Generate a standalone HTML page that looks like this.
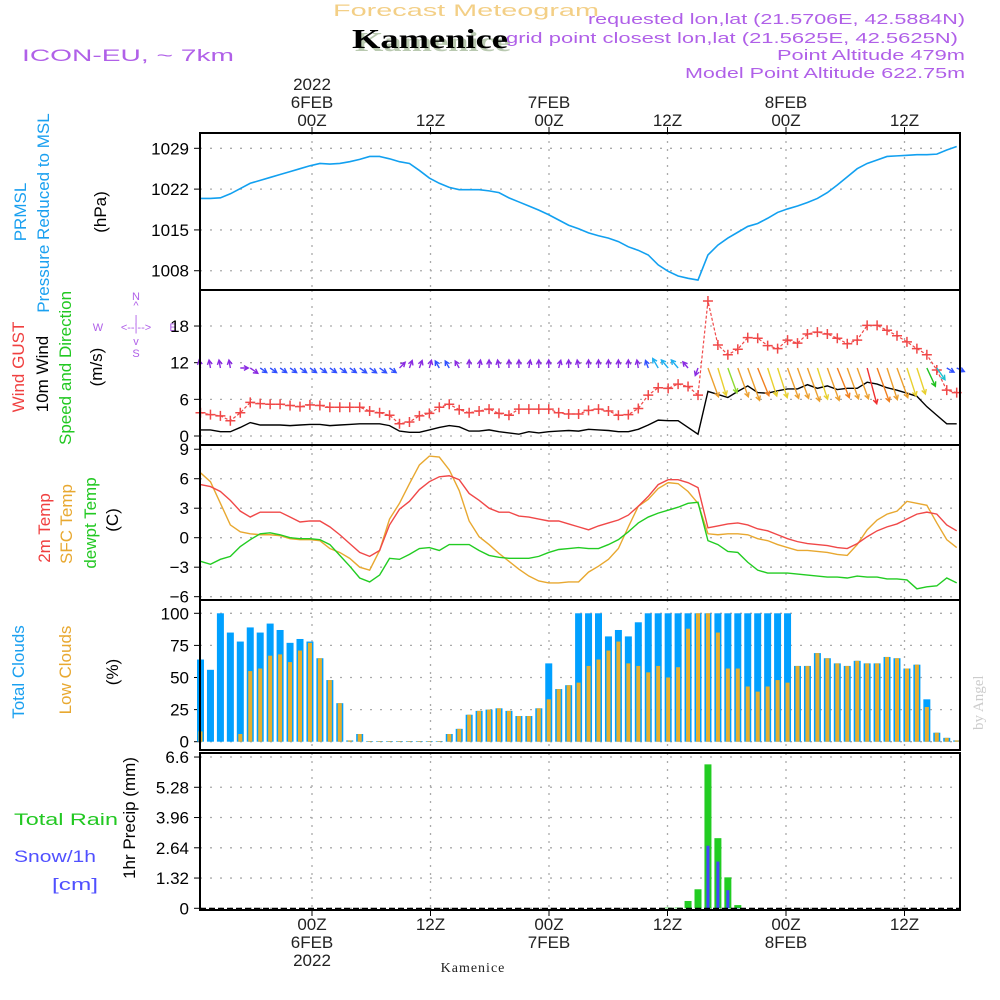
<!DOCTYPE html>
<html><head><meta charset="utf-8"><style>
html,body{margin:0;padding:0;background:#fff;}
svg{display:block;font-family:"Liberation Sans",sans-serif;}
</style></head><body>
<svg id="chart" width="1000" height="1000" viewBox="0 0 1000 1000" xmlns="http://www.w3.org/2000/svg">
<rect x="0" y="0" width="1000" height="1000" fill="#fff"/>
<text x="333" y="16" font-size="17" fill="#f3cf86" textLength="266" lengthAdjust="spacingAndGlyphs">Forecast Meteogram</text>
<text x="355" y="51" font-size="27" font-weight="bold" fill="#b9c9b0" font-family="Liberation Serif, serif" textLength="156" lengthAdjust="spacingAndGlyphs">Kamenice</text>
<text x="352" y="48" font-size="27" font-weight="bold" fill="#000" font-family="Liberation Serif, serif" textLength="156" lengthAdjust="spacingAndGlyphs">Kamenice</text>
<text x="22" y="61" font-size="17" fill="#b060e8" textLength="212" lengthAdjust="spacingAndGlyphs">ICON-EU, ~ 7km</text>
<g font-size="15" fill="#b060e8">
<text x="588" y="24" textLength="377" lengthAdjust="spacingAndGlyphs">requested lon,lat (21.5706E, 42.5884N)</text>
<text x="506" y="43" textLength="452" lengthAdjust="spacingAndGlyphs">grid point closest lon,lat (21.5625E, 42.5625N)</text>
<text x="777" y="60" textLength="188" lengthAdjust="spacingAndGlyphs">Point Altitude 479m</text>
<text x="685" y="78" textLength="280" lengthAdjust="spacingAndGlyphs">Model Point Altitude 622.75m</text>
</g>
<text transform="translate(983,730) rotate(-90)" font-size="15" fill="#ccc" font-family="Liberation Serif, serif">by Angel</text>
<text x="473" y="972" font-size="14" fill="#222" text-anchor="middle" font-family="Liberation Serif, serif" letter-spacing="1">Kamenice</text>

<g font-size="17">
<text transform="translate(26,212) rotate(-90)" fill="#1aa0f0" text-anchor="middle">PRMSL</text>
<text transform="translate(49,213) rotate(-90)" fill="#1aa0f0" text-anchor="middle">Pressure Reduced to MSL</text>
<text transform="translate(106,212) rotate(-90)" fill="#000" text-anchor="middle">(hPa)</text>
<text transform="translate(24,367) rotate(-90)" fill="#f04040" text-anchor="middle">Wind GUST</text>
<text transform="translate(48,374) rotate(-90)" fill="#000" text-anchor="middle">10m Wind</text>
<text transform="translate(71,368) rotate(-90)" fill="#22c822" text-anchor="middle">Speed and Direction</text>
<text transform="translate(102,367) rotate(-90)" fill="#000" text-anchor="middle">(m/s)</text>
<text transform="translate(50,528) rotate(-90)" fill="#f04040" text-anchor="middle">2m Temp</text>
<text transform="translate(72,524) rotate(-90)" fill="#e8a830" text-anchor="middle">SFC Temp</text>
<text transform="translate(96,523) rotate(-90)" fill="#22c822" text-anchor="middle">dewpt Temp</text>
<text transform="translate(118,520) rotate(-90)" fill="#000" text-anchor="middle">(C)</text>
<text transform="translate(24,672) rotate(-90)" fill="#1aa0f0" text-anchor="middle">Total Clouds</text>
<text transform="translate(71,670) rotate(-90)" fill="#e8a830" text-anchor="middle">Low Clouds</text>
<text transform="translate(118,672) rotate(-90)" fill="#000" text-anchor="middle">(%)</text>
<text transform="translate(135,818) rotate(-90)" fill="#000" text-anchor="middle">1hr Precip (mm)</text>
<text x="14" y="825" fill="#22c822" textLength="104" lengthAdjust="spacingAndGlyphs">Total   Rain</text>
<text x="14" y="862" fill="#5050ff" textLength="82" lengthAdjust="spacingAndGlyphs">Snow/1h</text>
<text x="52" y="890" fill="#5050ff" textLength="46" lengthAdjust="spacingAndGlyphs">[cm]</text>
</g>
<g font-size="11" fill="#b060e8" text-anchor="middle">
<text x="136" y="300">N</text><text x="136" y="309">^</text><text x="136" y="323">|</text>
<text x="98" y="331">W</text><text x="136" y="331">&lt;--|--&gt;</text><text x="173" y="331">E</text>
<text x="136" y="345">v</text><text x="136" y="357">S</text>
</g>

<g id="plots"></g>
</svg>
<script>
const pressure = [1020.4,1020.4,1020.5,1021.2,1022.1,1023,1023.5,1024,1024.5,1025,1025.5,1026,1026.4,1026.3,1026.4,1026.7,1027.1,1027.6,1027.6,1027.2,1026.7,1026.4,1025.2,1023.9,1023,1022.3,1021.9,1021.9,1021.9,1021.7,1021.4,1020.5,1019.8,1019.1,1018.4,1017.6,1016.7,1015.8,1015.2,1014.5,1014,1013.6,1013,1012.1,1011.5,1010.7,1009,1007.9,1007.1,1006.7,1006.4,1010.7,1012.4,1013.6,1014.6,1015.6,1016.1,1017,1018,1018.6,1019.1,1019.7,1020.4,1021.4,1022.7,1024.1,1025.5,1026.4,1027,1027.6,1027.7,1027.8,1027.9,1027.9,1028,1028.7,1029.3];
const windGust = [3.8,3.5,3.3,2.5,3.8,5.5,5.3,5.2,5.2,5,4.8,5.1,5,4.7,4.7,4.7,4.7,4.1,3.8,3.4,2,2.3,3.3,3.7,4.7,5.2,4.3,3.8,4.1,4.4,3.7,3.4,4.4,4.4,4.4,4.4,3.8,3.6,3.6,4.2,4.4,4.1,3.4,3.5,4.5,6.7,7.9,7.8,8.5,8.1,6.7,22.1,14.9,13.3,14.2,16.1,16,14.8,14.3,15.7,15.2,16.7,17,16.7,16,15.1,15.7,18.1,18.1,17.3,16.4,15.4,14.3,13.3,10.8,7.5,7.1];
const windSpeed = [1,1,0.7,0.7,1.4,2.2,1.8,1.8,1.8,1.7,1.8,1.9,1.9,1.7,1.8,1.9,2,2,2,1.7,0.8,0.6,0.6,1,1.4,1.7,1.5,0.8,0.8,1,0.7,0.5,0.3,0.7,0.5,0.7,0.8,0.9,0.8,1.1,1,0.9,0.7,0.7,1.1,1.8,2.6,2.5,2.5,1.4,0.3,7.3,6.8,6.3,7.3,8.2,7.1,7,7.4,7.7,7.7,8.4,7.8,8.2,7.6,7.8,7.8,8.8,8.5,7.9,7.5,7,6.5,4.8,3.4,2,2];
const windDir = [350,350,350,350,90,125,125,125,125,125,125,125,125,125,125,125,125,125,125,125,45,20,20,15,330,330,330,0,10,0,350,0,0,10,0,0,15,0,350,0,0,0,0,0,350,340,330,320,320,320,200,160,163,160,160,160,158,162,162,160,160,160,162,160,158,160,160,165,160,162,160,162,162,155,145,120,115];
const windColor = ["#8a2be2","#8a2be2","#8a2be2","#8a2be2","#8a2be2","#8a2be2","#3050ff","#3050ff","#3050ff","#3050ff","#3050ff","#3050ff","#3050ff","#3050ff","#3050ff","#3050ff","#3050ff","#3050ff","#3050ff","#3050ff","#8a2be2","#8a2be2","#8a2be2","#8a2be2","#3050ff","#3050ff","#8a2be2","#8a2be2","#8a2be2","#8a2be2","#8a2be2","#8a2be2","#8a2be2","#8a2be2","#8a2be2","#8a2be2","#8a2be2","#8a2be2","#8a2be2","#8a2be2","#8a2be2","#8a2be2","#8a2be2","#8a2be2","#8a2be2","#3050ff","#20b0f0","#20b0f0","#20b0f0","#8a2be2","#8a2be2","#eca030","#e8d030","#90d830","#eca030","#eca030","#f08020","#e8d030","#e8d030","#eca030","#eca030","#eca030","#e8d030","#eca030","#f08020","#eca030","#eca030","#f03030","#f08020","#eca030","#eca030","#e8d030","#e8d030","#20c020","#20c0d0","#3050ff","#3050ff"];
const temp2m = [5.4,5.2,4.7,3.8,2.7,2.1,2.6,2.6,2.6,2.1,1.6,1.7,1.7,1.1,0.3,-0.6,-1.5,-1.9,-1.3,1.3,2.9,3.7,4.9,5.7,6.2,6.3,5.9,4.5,3.8,3,2.6,2.6,2.2,2.1,1.9,1.7,1.7,1.4,1.1,0.8,1.2,1.5,1.8,2.3,3.2,4.2,5.4,5.9,5.9,5.6,5.1,1,1.2,1.4,1.5,1.3,0.9,0.7,0.3,-0.1,-0.4,-0.6,-0.7,-0.8,-1,-1.1,-0.6,0.1,0.7,1.1,1.4,1.9,2.4,2.6,2.4,1.3,0.7];
const tempSfc = [6.6,5.7,3.5,1.3,0.6,0.4,0.3,0.3,0.2,-0.1,-0.2,-0.2,-0.3,-1.1,-1.5,-2.1,-3,-3.3,-1.3,1.9,3.5,5.5,7.4,8.3,8.2,6.9,4.8,1.7,0.1,-0.7,-1.6,-2.4,-3.2,-3.9,-4.4,-4.6,-4.6,-4.5,-4.5,-3.5,-2.9,-2.2,-1.1,1.1,3.2,3.9,5,5.6,5.5,4.7,3.5,0.4,0.3,0.4,0.4,0.3,-0.1,-0.3,-0.7,-1,-1.3,-1.3,-1.4,-1.5,-1.7,-1.8,-0.7,0.8,1.8,2.4,2.7,3.7,3.5,3.3,1.5,-0.2,-1];
const tempDew = [-2.4,-2.7,-2.2,-1.9,-0.9,-0.2,0.4,0.5,0.3,0,-0.1,-0.1,-0.2,-0.7,-1.8,-2.9,-4.1,-4.5,-3.8,-2.1,-2.2,-1.7,-1.1,-1,-1.3,-0.7,-0.7,-0.7,-1.3,-1.8,-2,-2.1,-2.1,-2.1,-1.9,-1.5,-1.2,-1.1,-1,-1.1,-1.1,-0.7,-0.2,0.6,1.5,2.1,2.5,2.8,3.1,3.5,3.6,-0.3,-0.7,-1.4,-1.5,-2.5,-3.3,-3.6,-3.6,-3.6,-3.7,-3.8,-3.9,-4,-4,-4.1,-3.9,-4,-4,-4.2,-4.2,-4.3,-5.2,-5,-4.9,-4.1,-4.6];
const totalClouds = [64,56,100,85,78,89,85,92,87,77,80,78,65,48,30,1,6,0.5,0.5,0.5,0.5,0.5,0.5,0.5,0.5,6,10,21,24,25,26,24,20,20,26,61,41,44,100,100,100,82,87,82,93,100,100,100,100,100,100,100,100,100,100,100,100,100,100,100,59,59,69,65,61,59,63,61,61,66,65,57,60,33,7,3,1];
const lowClouds = [8,0,0,0,6,55,57,67,68,62,71,77,65,48,30,1,6,0.5,0.5,0.5,0.5,0.5,0.5,0.5,0.5,6,10,21,24,25,26,24,20,20,26,33,41,44,46,59,64,71,78,61,59,54,59,50,58,88,100,100,85,57,57,43,39,43,48,46,59,59,69,65,61,59,63,61,61,66,65,57,60,27,7,3,1];
const precipIdx = [47,48,49,50,51,52,53,54];
const rainTotal = [0.03,0.03,0.32,0.83,6.28,3.06,1.35,0.14];
const snowTotal = [0,0,0,0,2.73,2.04,0.79,0.02];
const tickHours = [0,12,24,36,48,60];
const tickTopLabels = [["2022","6FEB","00Z"],["12Z"],["7FEB","00Z"],["12Z"],["8FEB","00Z"],["12Z"]];
const tickBottomLabels = [["00Z","6FEB","2022"],["12Z"],["00Z","7FEB"],["12Z"],["00Z","8FEB"],["12Z"]];
const pTicks = [1029,1022,1015,1008];
const wTicks = [18,12,6,0];
const tTicks = [9,6,3,0,-3,-6];
const cTicks = [100,75,50,25,0];
const rTicks = [6.6,5.28,3.96,2.64,1.32,0];

const L=200, R=960;
const X = i => 200.5 + i*9.95;
const XT = h => 312 + h*9.875;
const yP = v => 148.3 + (1029-v)*5.83;
const yW = v => 436 - v*6.11;
const yT = v => 537.7 - v*9.83;
const yC = v => 741.7 - v*1.284;
const yR = v => 908.3 - v*22.92;

const NS="http://www.w3.org/2000/svg";
const root=document.getElementById('plots');
function mk(tag,attrs,parent){const e=document.createElementNS(NS,tag);for(const k in attrs)e.setAttribute(k,attrs[k]);(parent||root).appendChild(e);return e;}

const panels=[
 {name:'pressure',top:133,bot:290,ticks:pTicks,y:yP,fmt:v=>String(v)},
 {name:'wind',top:290,bot:445,ticks:wTicks,y:yW,fmt:v=>String(v)},
 {name:'temperature',top:445,bot:600,ticks:tTicks,y:yT,fmt:v=>v<0?'\u2212'+(-v):String(v)},
 {name:'clouds',top:600,bot:750,ticks:cTicks,y:yC,fmt:v=>String(v)},
 {name:'precip',top:753,bot:910,ticks:rTicks,y:yR,fmt:v=>String(v)}
];
panels.forEach(p=>{
  const g=mk('g',{});
  
  
  p.ticks.forEach(v=>{
    const y=p.y(v);
    const gl=mk('line',{x1:L,x2:R,y1:y,y2:y,stroke:'#aaa','stroke-width':1.3,'stroke-dasharray':'2 8'},g);
    
    
    mk('line',{x1:L-6,x2:L,y1:y,y2:y,stroke:'#000','stroke-width':1},g);
    const t=mk('text',{x:189,y:y+6,'font-size':17,'text-anchor':'end',fill:'#000'},g);
    
    
    t.textContent=p.fmt(v);
  });
  tickHours.forEach(h=>{
    const x=XT(h);
    const vl=mk('line',{x1:x,x2:x,y1:p.top,y2:p.bot,stroke:'#aaa','stroke-width':1.3,'stroke-dasharray':'2 6'},g);
    
    
  });
});

const pl=mk('polyline',{points:pressure.map((v,i)=>X(i)+','+yP(v)).join(' '),fill:'none',stroke:'#12a0f0','stroke-width':1.6});



const ws=mk('polyline',{points:windSpeed.map((v,i)=>X(i)+','+yW(v)).join(' '),fill:'none',stroke:'#000','stroke-width':1.4});


const gl=mk('polyline',{points:windGust.map((v,i)=>X(i)+','+yW(v)).join(' '),fill:'none',stroke:'#f04848','stroke-width':1.2,'stroke-dasharray':'3 2'});


windGust.forEach((v,i)=>{
  const x=X(i),y=yW(v);
  const m=mk('path',{d:`M${x-5},${y}H${x+5}M${x},${y-5}V${y+5}`,stroke:'#f04848','stroke-width':1.5});
  
  
});
windDir.forEach((d,i)=>{
  const len=Math.max(8,4.2*windSpeed[i]);
  const x0=X(i), y0=368;
  const r=d*Math.PI/180;
  const x1=x0+len*Math.sin(r), y1=y0-len*Math.cos(r);
  const a1=r+Math.PI-0.5, a2=r+Math.PI+0.5, h=5;
  const c=windColor[i];
  const ar=mk('path',{d:`M${x0},${y0}L${x1},${y1}M${x1+h*Math.sin(a1)},${y1-h*Math.cos(a1)}L${x1},${y1}L${x1+h*Math.sin(a2)},${y1-h*Math.cos(a2)}`,stroke:c,'stroke-width':1.4,fill:'none'});
  
  
});

[[tempSfc,'#e8a830','sfc-temp-line'],[temp2m,'#f04848','temp-2m-line'],[tempDew,'#22cc22','dewpoint-line']].forEach(([arr,c,n])=>{
  const l=mk('polyline',{points:arr.map((v,i)=>X(i)+','+yT(v)).join(' '),fill:'none',stroke:c,'stroke-width':1.4});
  
  
});

totalClouds.forEach((v,i)=>{
  const x=X(i);
  const b=mk('rect',{x:x-3.5,y:yC(v),width:7,height:yC(0)-yC(v),fill:'#00a0ff'});
  
  
  const lv=lowClouds[i];
  const b2=mk('rect',{x:x-2,y:yC(lv),width:4,height:yC(0)-yC(lv),fill:'#e6ae2e'});
  
  
});

precipIdx.forEach((idx,k)=>{
  const x=X(idx);
  const b=mk('rect',{x:x-3.5,y:yR(rainTotal[k]),width:7,height:yR(0)-yR(rainTotal[k]),fill:'#22cc22'});
  
  
  const s=snowTotal[k];
  const b2=mk('rect',{x:x-1.5,y:yR(s),width:3,height:yR(0)-yR(s),fill:'#4444ff'});
  
  
});
mk('line',{x1:L,x2:R,y1:908.5,y2:908.5,stroke:'#000','stroke-width':1.5,'stroke-dasharray':'6 3'});

panels.forEach(p=>{
  const f=mk('rect',{x:L,y:p.top,width:R-L,height:p.bot-p.top,fill:'none',stroke:'#000','stroke-width':2});
  
  
});
tickHours.forEach((h,k)=>{
  const x=XT(h);
  mk('line',{x1:x,x2:x,y1:127,y2:133,stroke:'#000'});
  mk('line',{x1:x,x2:x,y1:910,y2:916,stroke:'#000'});
  const top=tickTopLabels[k];
  top.forEach((s,j)=>{
    const t=mk('text',{x:x,y:126-(top.length-1-j)*18,'font-size':17,'text-anchor':'middle',fill:'#222'});
    
    
    t.textContent=s;
  });
  tickBottomLabels[k].forEach((s,j)=>{
    const t=mk('text',{x:x,y:930+j*18,'font-size':17,'text-anchor':'middle',fill:'#222'});
    
    
    t.textContent=s;
  });
});
</script>
</body></html>
